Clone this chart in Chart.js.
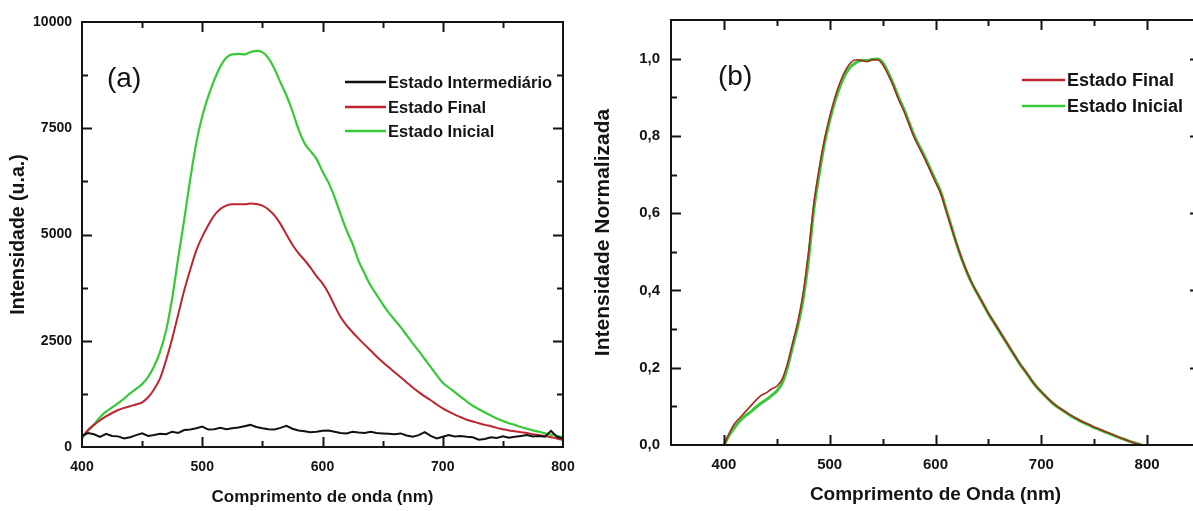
<!DOCTYPE html>
<html><head><meta charset="utf-8">
<script src="https://cdn.jsdelivr.net/npm/chart.js@4.4.0/dist/chart.umd.min.js"></script>
<style>
html,body{margin:0;padding:0;background:#fff;overflow:hidden;width:1193px;height:511px;}
#ca{position:absolute;left:0;top:0;}
#cb{position:absolute;left:590px;top:0;}
</style></head><body>
<canvas id="ca" width="590" height="511"></canvas>
<canvas id="cb" width="650" height="511"></canvas>
<script>
// ---------- DATA ----------
const waveA = [400,405,410,415,420,425,430,435,440,445,450,455,460,465,470,475,480,485,490,495,500,505,510,515,520,525,530,535,540,545,550,555,560,565,570,575,580,585,590,595,600,605,610,615,620,625,630,635,640,645,650,655,660,665,670,675,680,685,690,695,700,705,710,715,720,725,730,735,740,745,750,755,760,765,770,775,780,785,790,795,800];
const inicialA = [200,380,530,700,830,930,1030,1140,1260,1370,1480,1650,1900,2250,2750,3500,4450,5350,6300,7150,7780,8250,8640,8950,9160,9240,9250,9240,9290,9320,9290,9150,8900,8580,8270,7900,7480,7150,6960,6780,6480,6220,5880,5480,5100,4780,4380,4080,3800,3580,3360,3160,2990,2820,2630,2440,2260,2070,1880,1690,1510,1400,1290,1180,1070,970,890,810,740,670,610,560,520,470,430,390,360,320,290,260,230];
const finalA = [220,400,520,630,720,800,870,920,960,1000,1050,1170,1360,1620,2050,2550,3120,3680,4170,4620,4950,5220,5450,5600,5680,5710,5710,5710,5730,5720,5680,5590,5450,5250,5000,4760,4560,4400,4220,4020,3850,3620,3330,3060,2860,2700,2550,2410,2270,2130,2000,1880,1760,1640,1520,1400,1290,1190,1100,1000,910,830,760,700,640,600,560,520,490,450,420,390,370,350,330,300,280,260,230,200,160];
const intermediarioA = [270,330,300,240,310,260,250,200,230,280,320,260,280,310,300,360,330,400,410,440,480,410,420,450,420,440,460,490,520,470,440,420,410,450,500,430,390,370,350,360,380,390,360,330,320,360,340,330,360,330,320,310,300,320,270,240,280,350,260,200,240,280,250,260,240,230,170,190,230,210,250,220,240,260,280,250,260,240,380,240,200];

const waveB = [400,405,410,415,420,425,430,435,440,445,450,455,460,465,470,475,480,485,490,495,500,505,510,515,520,525,530,535,540,545,550,555,560,565,570,575,580,585,590,595,600,605,610,615,620,625,630,635,640,645,650,655,660,665,670,675,680,685,690,695,700,705,710,715,720,725,730,735,740,745,750,755,760,765,770,775,780,785,790,795];
const inicialB = [0.0,0.025,0.045,0.062,0.075,0.085,0.097,0.108,0.117,0.128,0.14,0.16,0.2,0.255,0.31,0.38,0.48,0.61,0.70,0.78,0.84,0.89,0.93,0.96,0.98,0.99,0.996,0.995,0.998,0.999,0.99,0.965,0.935,0.9,0.87,0.835,0.8,0.772,0.745,0.715,0.685,0.655,0.61,0.565,0.52,0.48,0.445,0.415,0.39,0.365,0.34,0.318,0.296,0.274,0.252,0.23,0.208,0.19,0.17,0.152,0.137,0.123,0.11,0.099,0.09,0.081,0.072,0.065,0.058,0.052,0.045,0.04,0.034,0.029,0.023,0.018,0.013,0.008,0.004,0.0];
const finalB = [0.0,0.03,0.055,0.07,0.085,0.1,0.115,0.128,0.135,0.145,0.152,0.17,0.21,0.265,0.32,0.395,0.5,0.625,0.715,0.79,0.85,0.9,0.94,0.97,0.99,0.997,0.995,0.992,0.997,0.997,0.985,0.96,0.93,0.895,0.865,0.83,0.795,0.768,0.74,0.71,0.68,0.65,0.607,0.563,0.52,0.481,0.446,0.416,0.39,0.366,0.341,0.319,0.297,0.275,0.253,0.231,0.21,0.191,0.171,0.153,0.138,0.124,0.111,0.1,0.091,0.082,0.074,0.066,0.059,0.053,0.046,0.041,0.035,0.03,0.024,0.018,0.013,0.008,0.003,0.0];

const xTicksA = [400,500,600,700,800];
const yTicksA = [0,2500,5000,7500,10000];
const xTicksB = [400,500,600,700,800];
const yTicksB = [0,0.2,0.4,0.6,0.8,1.0];

const labelsA = {inicial:'Estado Inicial', final:'Estado Final', inter:'Estado Intermediário'};
const labelsB = {inicial:'Estado Inicial', final:'Estado Final'};

// ---------- STYLE ----------
const FAM = '"Liberation Sans", Arial, Helvetica, sans-serif';
const INK = '#141414';
const GREEN = '#38c838';
const RED = '#bb2630';
const BLACK = '#111111';

const pts = (xs, ys) => xs.map((x,i)=>({x, y: ys[i]}));

const frameTicks = {
  id:'frameTicks',
  afterDatasetsDraw(chart, args, o) {
    const {ctx, chartArea:{left,right,top,bottom}, scales:{x,y}} = chart;
    ctx.save();
    ctx.strokeStyle = INK;
    ctx.lineWidth = o.tickWidth;
    ctx.beginPath();
    const nx = Math.round((x.max - x.min)/o.xMinor);
    for (let i=1;i<nx;i++){
      const v = x.min + i*o.xMinor;
      const px = Math.round(x.getPixelForValue(v))+0.5;
      const L = (Math.abs(v % o.xMajor) < 1e-6) ? o.major : o.minor;
      ctx.moveTo(px, bottom); ctx.lineTo(px, bottom-L);
      ctx.moveTo(px, top); ctx.lineTo(px, top+L);
    }
    const ny = Math.round((y.max - y.min)/o.yMinor);
    for (let i=1;i<ny;i++){
      const v = y.min + i*o.yMinor;
      const py = Math.round(y.getPixelForValue(v))+0.5;
      const r = v/o.yMajor;
      const L = (Math.abs(r-Math.round(r)) < 1e-6) ? o.major : o.minor;
      ctx.moveTo(left, py); ctx.lineTo(left+L, py);
      ctx.moveTo(right, py); ctx.lineTo(right-L, py);
    }
    ctx.stroke();
    ctx.lineWidth = o.frameWidth;
    ctx.strokeRect(left, top, right-left, bottom-top);
    ctx.restore();
  },
  afterDraw(chart, args, o) {
    const ctx = chart.ctx;
    ctx.save();
    ctx.textBaseline = 'middle';
    ctx.textAlign = 'left';
    ctx.fillStyle = INK;
    ctx.font = 'normal ' + o.panelSize + 'px ' + FAM;
    ctx.fillText(o.panel, o.panelX, o.panelY);
    ctx.font = 'bold ' + o.legSize + 'px ' + FAM;
    o.legend.forEach((it, i) => {
      const yy = o.legY[i];
      ctx.strokeStyle = it.color; ctx.lineWidth = 2.5;
      ctx.beginPath(); ctx.moveTo(o.legX0, yy); ctx.lineTo(o.legX1, yy); ctx.stroke();
      ctx.fillStyle = INK;
      ctx.fillText(it.label, o.legX1 + 2, yy + 1);
    });
    ctx.restore();
  }
};

function axisCommon(title, tickSize, titleSize, titlePad, tickPad, ticksArr, fmt){
  return {
    type:'linear',
    grid:{display:false, drawTicks:false},
    border:{display:false},
    afterBuildTicks: s => { s.ticks = ticksArr.map(v=>({value:v})); },
    ticks:{padding:tickPad, color:INK, font:{family:FAM, size:tickSize, weight:'bold', lineHeight:1.2},
           callback: fmt, autoSkip:false, maxRotation:0},
    title:{display:true, text:title, color:INK, padding:titlePad,
           font:{family:FAM, size:titleSize, weight:'bold', lineHeight:1.2}}
  };
}

// ---------- CHART A ----------
const xA = axisCommon('Comprimento de onda (nm)', 14, 17, {top:0,bottom:3}, 12, xTicksA, v=>String(v));
Object.assign(xA, {min:400, max:800, afterFit: s => { s.height = 64; }});
const yA = axisCommon('Intensidade (u.a.)', 14, 19.5, {top:7,bottom:0}, 10, yTicksA, v=>String(v));
Object.assign(yA, {min:0, max:10000, afterFit: s => { s.width = 82; }});

new Chart(document.getElementById('ca'), {
  type:'line',
  data:{datasets:[
    {label:labelsA.inter, data:pts(waveA, intermediarioA), borderColor:BLACK, borderWidth:2, tension:0},
    {label:labelsA.final, data:pts(waveA, finalA), borderColor:RED, borderWidth:2, cubicInterpolationMode:'monotone'},
    {label:labelsA.inicial, data:pts(waveA, inicialA), borderColor:GREEN, borderWidth:2.2, cubicInterpolationMode:'monotone'}
  ]},
  options:{
    responsive:false, animation:false, devicePixelRatio:1,
    layout:{padding:{top:22, right:27, left:0, bottom:0}},
    elements:{point:{radius:0}},
    plugins:{legend:{display:false}, tooltip:{enabled:false},
      frameTicks:{tickWidth:2, frameWidth:2, major:10, minor:6, xMinor:50, xMajor:100, yMinor:1250, yMajor:2500,
        panel:'(a)', panelSize:28, panelX:107, panelY:79,
        legSize:16.5, legX0:345, legX1:386, legY:[82,107,131],
        legend:[{label:labelsA.inter, color:BLACK},{label:labelsA.final, color:RED},{label:labelsA.inicial, color:GREEN}]}},
    scales:{x:xA, y:yA}
  },
  plugins:[frameTicks]
});

// ---------- CHART B ----------
const fmtB = v => v.toFixed(1).replace('.', ',');
const xB = axisCommon('Comprimento de Onda (nm)', 15, 19, {top:0,bottom:5}, 11, xTicksB, v=>String(v));
Object.assign(xB, {min:350, max:850, afterFit: s => { s.height = 66; }});
const yB = axisCommon('Intensidade Normalizada', 15, 21, {top:1,bottom:0}, 11, yTicksB, fmtB);
Object.assign(yB, {min:0, max:1.1, afterFit: s => { s.width = 81; }});

new Chart(document.getElementById('cb'), {
  type:'line',
  data:{datasets:[
    {label:labelsB.final, data:pts(waveB, finalB), borderColor:'#a52a22', borderWidth:1.6, cubicInterpolationMode:'monotone'},
    {label:labelsB.inicial, data:pts(waveB, inicialB), borderColor:GREEN, borderWidth:3, cubicInterpolationMode:'monotone'}
  ]},
  options:{
    responsive:false, animation:false, devicePixelRatio:1,
    layout:{padding:{top:15, right:40, left:0, bottom:0}},
    elements:{point:{radius:0}},
    plugins:{legend:{display:false}, tooltip:{enabled:false},
      frameTicks:{tickWidth:2, frameWidth:2, major:10, minor:6, xMinor:50, xMajor:100, yMinor:0.1, yMajor:0.2,
        panel:'(b)', panelSize:28, panelX:128, panelY:77,
        legSize:18, legX0:432, legX1:475, legY:[80,106],
        legend:[{label:labelsB.final, color:RED},{label:labelsB.inicial, color:GREEN}]}},
    scales:{x:xB, y:yB}
  },
  plugins:[frameTicks]
});
</script>
</body></html>
